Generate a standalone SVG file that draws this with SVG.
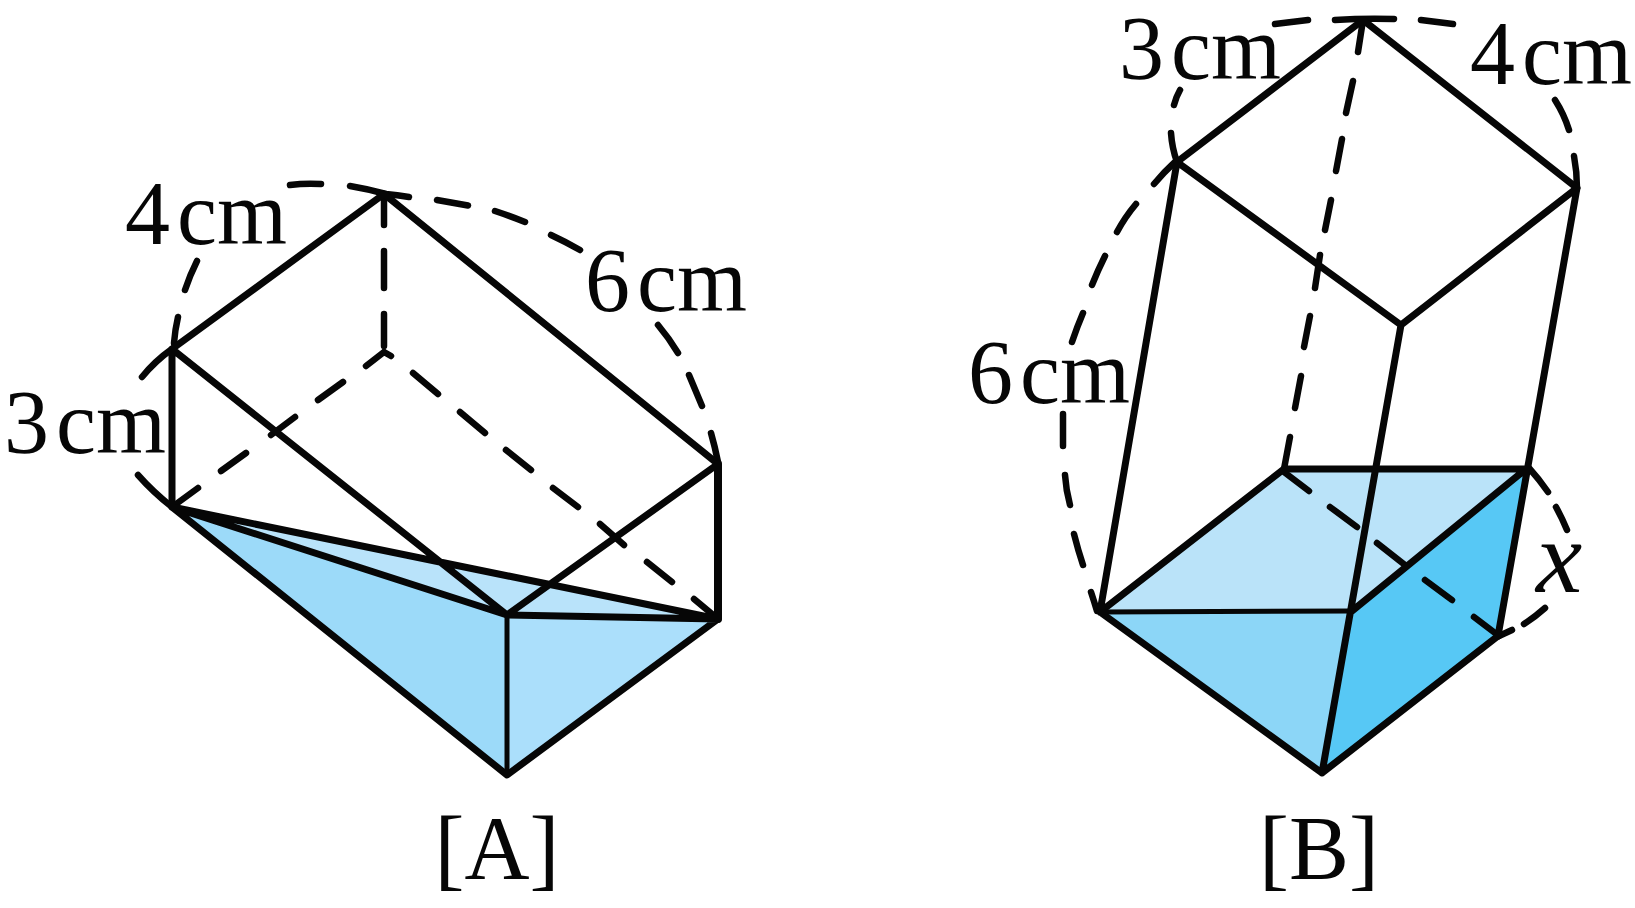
<svg xmlns="http://www.w3.org/2000/svg" width="1635" height="908" viewBox="0 0 1635 908">
<style>
.l{fill:none;stroke:#060606;stroke-width:7;stroke-linecap:round;stroke-linejoin:round}
.d{fill:none;stroke:#060606;stroke-width:6.5;stroke-linecap:round}
.t{font-family:"Liberation Serif","Times New Roman",serif;font-size:90px;fill:#060606;word-spacing:-15.5px}
</style>
<rect width="1635" height="908" fill="#fff"/>
<g id="prism-a">
<polygon fill="#9cdaf9" points="172,507 507,615 507,775"/>
<polygon fill="#abdffb" points="507,615 718,619 507,775"/>
<polygon fill="#b9e3fa" points="172,507 718,619 507,615"/>
<path class="d" d="M384,198V225M384,251V288M384,314V346M384,352L366,366M343,382L318,400M295,417L271,435M246,453L221,471M198,488L172,507M384,352L391,356M413,373L438,394M460,412L485,433M506,450L531,470M553,488L578,507M600,524L624,545M647,562L672,582M694,599L718,619"/>
<path class="d" d="M174,343Q175,330 178,317M185,290Q190,275 197,261M290,185Q305,183 321,184M350,186Q368,189 386,194M386,194Q397,195 409,197M437,200L468,205.5M495,211Q510,216 525,222M551,235Q566,242 580,250M658,325Q669,338 678,353M689,375L702,406M711,433Q715,447 718,462M172,349Q155,361 142,377M138,475Q153,492 172,507"/>
<path class="l" d="M172,349L384,194L718,464V619L507,775L172,507ZM172,349L507,615L718,464M172,507L718,619M172,507L507,615L718,619"/>
<path class="l" style="stroke-width:5" d="M507,615V775"/>
<path class="l" style="stroke-width:8" d="M718,464V619"/>
</g>
<g id="prism-b">
<polygon fill="#bae3f9" points="1100,612 1284,469 1526,468 1352,611"/>
<polygon fill="#8cd6f7" points="1100,612 1352,611 1322,773"/>
<polygon fill="#57c8f5" points="1352,611 1526,468 1498,636 1322,773"/>
<path class="d" d="M1363,20L1358,52M1353,81L1346,113M1342,139L1336,171M1331,200L1325,230M1320,255L1315,288M1310,316L1304,347M1301,376L1295,408M1290,437L1284,469M1284,472L1309,491M1330,507L1357,527M1377,543L1405,565M1425,580L1452,600M1474,617L1499,636"/>
<path class="d" d="M1177,162Q1172,148 1171,133M1174,105Q1176,97 1180,90M1275,24L1308,20M1335,20Q1365,18 1394,19M1421,20L1453,24M1555,100Q1564,114 1569,130M1574,156Q1577,172 1577,188M1154,184Q1164,172 1175,162M1117,232Q1125,217 1136,204M1092,285Q1098,270 1105,256M1072,342Q1077,327 1083,313M1063,446V414M1070,505Q1066,490 1065,475M1083,565Q1078,550 1074,534M1097,611Q1094,601 1091,592M1529,468Q1539,479 1548,492M1556,507Q1562,518 1567,530M1545,608Q1535,617 1524,624M1512,630L1499,636"/>
<path class="l" d="M1177,162L1363,20L1577,188L1498,636L1322,773L1100,612ZM1177,162L1401,325L1577,188M1401,325L1322,773M1100,612L1284,469H1526L1352,611"/>
<path class="l" style="stroke-width:5" d="M1100,612L1352,611"/>
</g>
<g id="labels">
<text class="t" x="125" y="244">4 cm</text>
<text class="t" x="585" y="311">6 cm</text>
<text class="t" x="4" y="453">3 cm</text>
<text class="t" x="497" y="879" text-anchor="middle">[A]</text>
<text class="t" x="1119" y="79">3 cm</text>
<text class="t" x="1470" y="84">4 cm</text>
<text class="t" x="968" y="403">6 cm</text>
<text class="t" x="1559" y="592" text-anchor="middle" font-style="italic" font-size="100" style="font-size:104px">x</text>
<text class="t" x="1319" y="879" text-anchor="middle">[B]</text>
</g>
</svg>
